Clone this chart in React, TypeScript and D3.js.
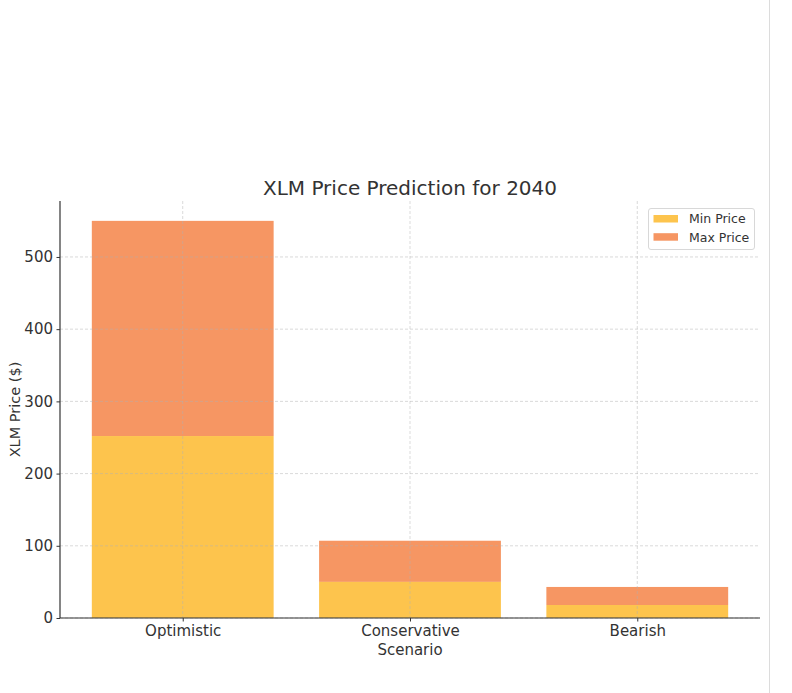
import React, { useEffect, useRef } from 'react';
import * as d3 from 'd3';

const scenarios = ['Optimistic', 'Conservative', 'Bearish'];
const minPrices = [252, 50, 18];
const maxPrices = [550, 107, 43];
const yTicks = [0, 100, 200, 300, 400, 500];

const MIN_COLOR = '#fdc44d';
const MAX_COLOR = '#f69663';
const TEXT = '#333333';
const FONT = '"DejaVu Sans", sans-serif';

export default function App() {
  const svgRef = useRef<SVGSVGElement>(null);

  useEffect(() => {
    if (!svgRef.current) return;
    const svg = d3.select(svgRef.current);
    svg.selectAll('*').remove();

    const width = 792;
    const height = 693;
    const margin = { top: 201, right: 32, bottom: 75, left: 60 };
    const plotRight = width - margin.right;
    const plotBottom = height - margin.bottom;

    // matplotlib-like categorical axis: -0.54 .. 2.54
    const x = d3.scaleLinear()
      .domain([-0.54, scenarios.length - 1 + 0.54])
      .range([margin.left, plotRight]);
    const barW = x(0.8) - x(0);

    const yMax = d3.max(maxPrices)! * 1.05;
    const y = d3.scaleLinear()
      .domain([0, yMax])
      .range([plotBottom, margin.top]);

    // page border line on the right
    svg.append('line')
      .attr('x1', 769.5).attr('x2', 769.5)
      .attr('y1', 0).attr('y2', height)
      .attr('stroke', '#dcdcdc').attr('stroke-width', 1);

    // bars
    const g = svg.append('g');
    scenarios.forEach((s, i) => {
      g.append('rect')
        .attr('x', x(i) - barW / 2)
        .attr('width', barW)
        .attr('y', y(maxPrices[i]))
        .attr('height', y(minPrices[i]) - y(maxPrices[i]))
        .attr('fill', MAX_COLOR);
      g.append('rect')
        .attr('x', x(i) - barW / 2)
        .attr('width', barW)
        .attr('y', y(minPrices[i]))
        .attr('height', plotBottom - y(minPrices[i]))
        .attr('fill', MIN_COLOR);
    });

    // grid on top of the bars
    const grid = svg.append('g')
      .attr('stroke', '#b0b0b0')
      .attr('stroke-opacity', 0.6)
      .attr('stroke-width', 0.8)
      .attr('stroke-dasharray', '3,2');
    yTicks.forEach(t => {
      grid.append('line')
        .attr('x1', margin.left).attr('x2', plotRight)
        .attr('y1', y(t)).attr('y2', y(t));
    });
    scenarios.forEach((s, i) => {
      grid.append('line')
        .attr('x1', x(i)).attr('x2', x(i))
        .attr('y1', margin.top).attr('y2', plotBottom);
    });

    // y axis
    const yAxis = svg.append('g')
      .attr('transform', `translate(${margin.left},0)`)
      .call(d3.axisLeft(y).tickValues(yTicks).tickSize(3.5).tickPadding(3.5));
    yAxis.select('.domain').attr('stroke', TEXT).attr('stroke-width', 1.2)
      .attr('d', `M0,${margin.top}V${plotBottom}`);
    yAxis.selectAll('.tick line').attr('stroke', TEXT);
    yAxis.selectAll('.tick text')
      .attr('fill', TEXT).style('font-family', FONT).style('font-size', '15px');

    // x axis
    const xAxis = svg.append('g')
      .attr('transform', `translate(0,${plotBottom})`)
      .call(d3.axisBottom(x).tickValues(scenarios.map((_, i) => i))
        .tickFormat((d) => scenarios[d as number]).tickSize(3.5).tickPadding(3.5));
    xAxis.select('.domain').attr('stroke', TEXT).attr('stroke-width', 1.2)
      .attr('d', `M${margin.left},0H${plotRight}`);
    xAxis.selectAll('.tick line').attr('stroke', TEXT);
    xAxis.selectAll('.tick text')
      .attr('fill', TEXT).style('font-family', FONT).style('font-size', '15px');

    // title and axis labels
    svg.append('text')
      .attr('x', (margin.left + plotRight) / 2)
      .attr('y', 195)
      .attr('text-anchor', 'middle')
      .attr('fill', TEXT)
      .style('font-family', FONT).style('font-size', '20px')
      .text('XLM Price Prediction for 2040');

    svg.append('text')
      .attr('x', (margin.left + plotRight) / 2)
      .attr('y', 655)
      .attr('text-anchor', 'middle')
      .attr('fill', TEXT)
      .style('font-family', FONT).style('font-size', '15px')
      .text('Scenario');

    svg.append('text')
      .attr('transform', `translate(19.5,${(margin.top + plotBottom) / 2}) rotate(-90)`)
      .attr('text-anchor', 'middle')
      .attr('fill', TEXT)
      .style('font-family', FONT).style('font-size', '14.5px')
      .text('XLM Price ($)');

    // legend
    const legend = svg.append('g').attr('transform', 'translate(648,208)');
    legend.append('rect')
      .attr('x', 0.5).attr('y', 0.5)
      .attr('width', 106).attr('height', 41)
      .attr('rx', 2.5)
      .attr('fill', 'white').attr('fill-opacity', 0.8)
      .attr('stroke', '#d8d8d8');
    const items = [
      { label: 'Min Price', color: MIN_COLOR },
      { label: 'Max Price', color: MAX_COLOR },
    ];
    items.forEach((it, i) => {
      legend.append('rect')
        .attr('x', 5.5).attr('y', 7 + i * 18.2)
        .attr('width', 24.5).attr('height', 7.5)
        .attr('fill', it.color);
      legend.append('text')
        .attr('x', 41).attr('y', 15.3 + i * 18.3)
        .attr('fill', TEXT)
        .style('font-family', FONT).style('font-size', '12.5px')
        .text(it.label);
    });
  }, []);

  return (
    <svg
      ref={svgRef}
      width={792}
      height={693}
      style={{ position: 'absolute', left: 0, top: 0, background: 'white' }}
    />
  );
}
